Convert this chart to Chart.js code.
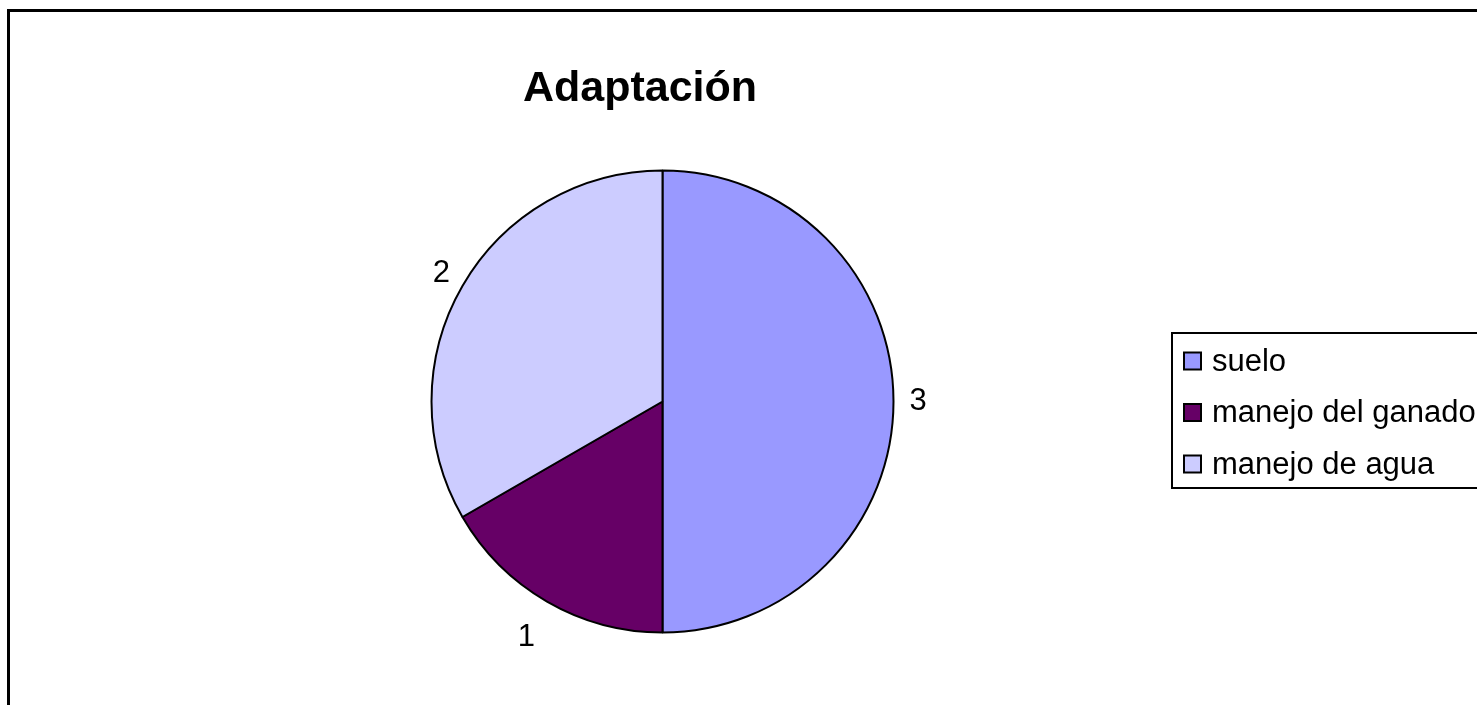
<!DOCTYPE html>
<html>
<head>
<meta charset="utf-8">
<script src="https://cdn.jsdelivr.net/npm/chart.js@4"></script>
<style>
  html, body { margin: 0; padding: 0; background: #ffffff; }
  #wrap { width: 1477px; height: 705px; position: relative; }
  canvas { display: block; }
</style>
</head>
<body>
<div id="wrap"><canvas id="c" width="1477" height="705"></canvas></div>
<script>
const chartTitle = "Adaptación";
const categories = ["suelo", "manejo del ganado", "manejo de agua"];
const values = [3, 1, 2];
const sliceColors = ["#9999FF", "#660066", "#CCCCFF"];

const FONT = '"Liberation Sans", Arial, sans-serif';

const decorPlugin = {
  id: 'decor',
  beforeDraw(chart) {
    const ctx = chart.ctx;
    ctx.save();
    ctx.fillStyle = '#ffffff';
    ctx.fillRect(0, 0, chart.width, chart.height);
    ctx.strokeStyle = '#000000';
    ctx.lineWidth = 3;
    ctx.beginPath();
    ctx.moveTo(8.5, chart.height + 5);
    ctx.lineTo(8.5, 10.5);
    ctx.lineTo(chart.width + 5, 10.5);
    ctx.stroke();
    ctx.fillStyle = '#000000';
    ctx.font = 'bold 43px ' + FONT;
    ctx.textAlign = 'center';
    ctx.textBaseline = 'alphabetic';
    ctx.fillText(chartTitle, 640, 101);
    ctx.restore();
  },
  afterDatasetsDraw(chart) {
    const ctx = chart.ctx;
    const meta = chart.getDatasetMeta(0);
    const ds = chart.data.datasets[0];
    ctx.save();
    ctx.font = '31px ' + FONT;
    ctx.fillStyle = '#000000';
    ctx.textAlign = 'center';
    ctx.textBaseline = 'middle';
    meta.data.forEach((arc, i) => {
      const p = arc.getProps(['x', 'y', 'startAngle', 'endAngle', 'outerRadius'], true);
      const mid = (p.startAngle + p.endAngle) / 2;
      const dx = Math.cos(mid), dy = Math.sin(mid);
      const txt = String(ds.data[i]);
      const hw = ctx.measureText(txt).width / 2;
      const vert = dy > 0 ? dy * 24 : -dy * 2;
      const d = p.outerRadius + 16 + Math.abs(dx) * hw + vert;
      ctx.fillText(txt, p.x + dx * d, p.y + dy * d);
    });
    ctx.restore();

    ctx.save();
    const boxL = 1172, boxT = 333, boxB = 488;
    ctx.strokeStyle = '#000000';
    ctx.lineWidth = 2;
    ctx.strokeRect(boxL, boxT, chart.width + 20 - boxL, boxB - boxT);
    ctx.font = '31px ' + FONT;
    ctx.textAlign = 'left';
    ctx.textBaseline = 'middle';
    chart.data.labels.forEach((lab, i) => {
      const cy = 361 + i * 51.5;
      ctx.fillStyle = ds.backgroundColor[i];
      ctx.fillRect(1184, cy - 8.5, 17, 17);
      ctx.lineWidth = 2;
      ctx.strokeStyle = '#000000';
      ctx.strokeRect(1184, cy - 8.5, 17, 17);
      ctx.fillStyle = '#000000';
      ctx.fillText(lab, 1212, cy + 1);
    });
    ctx.restore();
  }
};

new Chart(document.getElementById('c'), {
  type: 'pie',
  data: {
    labels: categories,
    datasets: [{
      data: values,
      backgroundColor: sliceColors,
      borderColor: '#000000',
      borderWidth: 2
    }]
  },
  options: {
    responsive: false,
    animation: false,
    events: [],
    layout: {
      padding: { left: 430.5, right: 582.5, top: 169.5, bottom: 71.5 }
    },
    plugins: {
      legend: { display: false },
      title: { display: false },
      tooltip: { enabled: false }
    }
  },
  plugins: [decorPlugin]
});
</script>
</body>
</html>
